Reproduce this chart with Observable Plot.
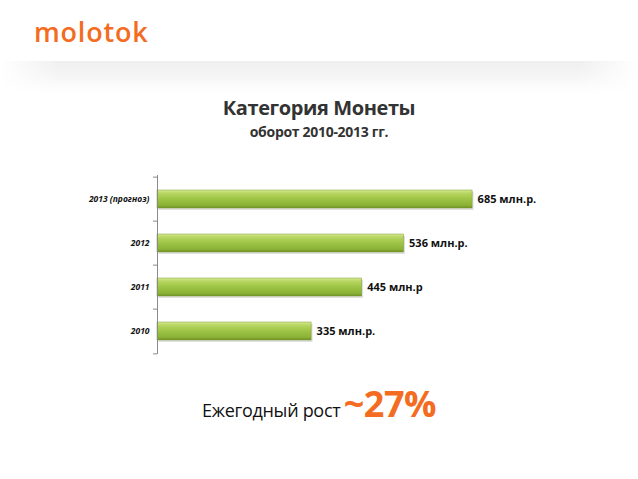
<!DOCTYPE html>
<html>
<head>
<meta charset="utf-8">
<script src="https://cdn.jsdelivr.net/npm/d3@7"></script>
<script src="https://cdn.jsdelivr.net/npm/@observablehq/plot@0.6"></script>
<style>
  html, body { margin: 0; padding: 0; background: #fff; }
  #page { position: relative; width: 638px; height: 479px; overflow: hidden; background: #fff; font-family: "Open Sans", sans-serif; }
  #logo { position: absolute; left: 34px; top: 17px; line-height: 30px; font-family: "Open Sans", sans-serif; font-weight: 600; font-size: 27px; color: #f36c21; letter-spacing: 0.8px; }
  #band { position: absolute; left: 0; top: 61px; width: 638px; height: 32px;
    background: linear-gradient(to bottom, #efefef 0%, #f4f4f4 40%, #ffffff 100%); }
  #bandfade { position: absolute; left: 0; top: 61px; width: 638px; height: 32px;
    background: linear-gradient(to right, #fff 0px, rgba(255,255,255,0) 60px, rgba(255,255,255,0) 578px, #fff 638px); }
  #title { position: absolute; left: 0; width: 638px; top: 97px; line-height: 22px; text-align: center; font-family: "Open Sans", sans-serif; font-weight: 700; font-size: 20px; color: #333; letter-spacing: -0.4px; }
  #subtitle { position: absolute; left: 0; width: 638px; top: 124px; line-height: 16px; text-align: center; font-family: "Open Sans", sans-serif; font-weight: 700; font-size: 14px; color: #333; letter-spacing: -0.3px; }
  #chart { position: absolute; left: 0; top: 170px; }
  #growth { position: absolute; left: 0; width: 638px; top: 382px; line-height: 44px; text-align: center; white-space: nowrap; }
  #growth .lbl { font-family: "Open Sans", sans-serif; font-size: 18px; color: #111; letter-spacing: -0.3px; }
  #growth .val { font-family: "Open Sans", sans-serif; font-weight: 700; font-size: 36px; color: #f36c21; letter-spacing: -0.5px; margin-left: -1px; }
</style>
</head>
<body>
<div id="page">
  <div id="logo">molotok</div>
  <div id="band"></div>
  <div id="bandfade"></div>
  <div id="title">Категория Монеты</div>
  <div id="subtitle">оборот 2010-2013 гг.</div>
  <div id="chart"></div>
  <div id="growth"><span class="lbl">Ежегодный рост </span><span class="val">~27%</span></div>
</div>
<script>
const categories = ["2013 (прогноз)", "2012", "2011", "2010"];
const values = [685, 536, 445, 335];
const valueLabels = ["685 млн.р.", "536 млн.р.", "445 млн.р", "335 млн.р."];

const data = categories.map((c, i) => ({category: c, value: values[i], label: valueLabels[i]}));

const H = 189, MT = 5, MB = 5;
const step = (H - MT - MB) / categories.length;

const chart = Plot.plot({
  width: 638,
  height: H,
  marginTop: MT,
  marginBottom: MB,
  marginLeft: 157,
  marginRight: 113,
  style: {fontFamily: "Open Sans, sans-serif", background: "transparent", overflow: "visible"},
  x: {domain: [0, 800], axis: null},
  y: {domain: categories, paddingInner: 0.6, paddingOuter: 0.3, label: null},
  marks: [
    // shadow
    Plot.barX(data, {y: "category", x: "value", fill: "#000", fillOpacity: 0.12, dx: 1.5, dy: 2}),
    Plot.barX(data, {y: "category", x: "value", fill: "url(#barGrad)", stroke: "#7d9c30", strokeWidth: 0.5}),
    Plot.text(data, {y: "category", x: "value", text: "label", dx: 5, textAnchor: "start",
      fontWeight: "bold", fontSize: 11, fill: "#111"}),
    Plot.axisY({tickSize: 0, tickPadding: 8, fontSize: 8.5, fontStyle: "italic", fontWeight: "bold", fill: "#111"}),
    Plot.ruleX([0], {stroke: "#8a8a8a", strokeWidth: 1}),
    // boundary ticks on the axis
    Plot.ruleY(categories, {y: d => d, x1: 0, x2: 0, insetLeft: -4, stroke: "#8a8a8a", dy: -step / 2}),
    Plot.ruleY(categories.slice(-1), {y: d => d, x1: 0, x2: 0, insetLeft: -4, stroke: "#8a8a8a", dy: step / 2})
  ]
});

// gradient definition for bars
const ns = "http://www.w3.org/2000/svg";
const defs = document.createElementNS(ns, "defs");
defs.innerHTML = `
  <linearGradient id="barGrad" x1="0" y1="0" x2="0" y2="1">
    <stop offset="0%" stop-color="#d6ea92"/>
    <stop offset="18%" stop-color="#b7d561"/>
    <stop offset="50%" stop-color="#9dc444"/>
    <stop offset="85%" stop-color="#8bb136"/>
    <stop offset="100%" stop-color="#6f8f26"/>
  </linearGradient>`;
chart.insertBefore(defs, chart.firstChild);
document.getElementById("chart").appendChild(chart);
</script>
</body>
</html>
